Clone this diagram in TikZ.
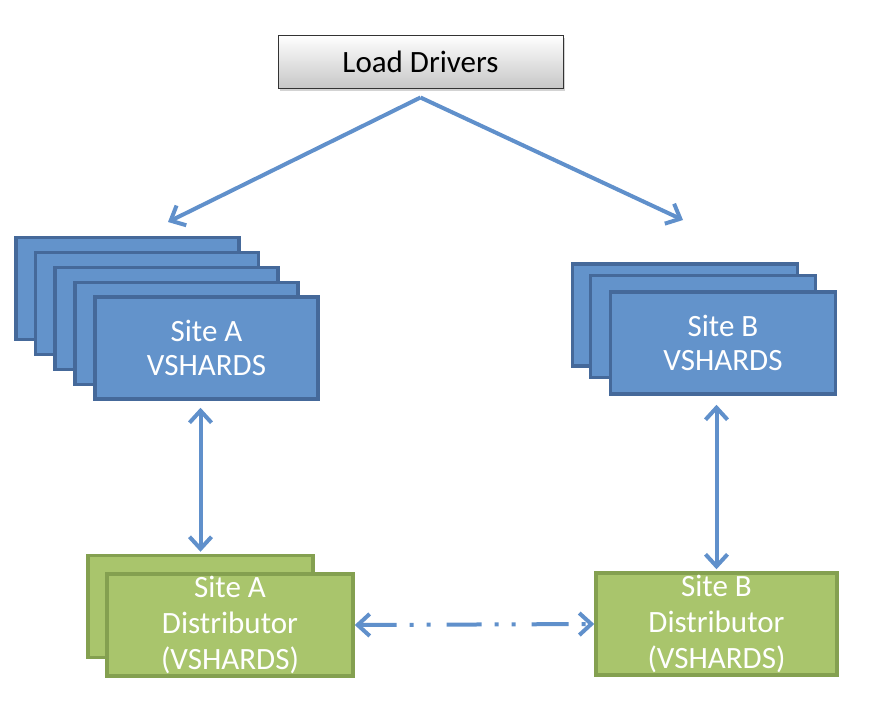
\documentclass[tikz,border=0pt]{standalone}
\usepackage{fontspec}
\setmainfont{Carlito}
\usetikzlibrary{arrows.meta,positioning,shadows}
\definecolor{shardBlue}{HTML}{6393CB}
\definecolor{shardEdge}{HTML}{45699A}
\definecolor{distGreen}{HTML}{A9C56C}
\definecolor{distEdge}{HTML}{84A050}
\definecolor{linkBlue}{HTML}{6090CB}

\begin{document}
\begin{tikzpicture}[x=1pt,y=-1pt,every node/.style={font=\fontsize{31}{34}\selectfont}]
      \tikzstyle{driver}=[draw=black!80,line width=1pt,top color=white,bottom color=black!22,
                          minimum width=285pt,minimum height=53pt,
                          drop shadow={opacity=0.35,shadow xshift=2pt,shadow yshift=-3pt}]
      \tikzstyle{shard}=[draw=shardEdge,fill=shardBlue,line width=3.5pt,inner sep=0pt,
                         minimum width=223pt,minimum height=102pt,align=center,text=white]
      \tikzstyle{dist}=[draw=distEdge,fill=distGreen,line width=3.5pt,inner sep=0pt,
                        minimum height=102pt,align=center,text=white,
                        font=\fontsize{31}{36}\selectfont]
      \tikzstyle{link}=[linkBlue,line width=4pt]
      \tikzstyle{tip}=[-{Straight Barb[length=12pt,width=22pt]}]
      \tikzstyle{tips}=[{Straight Barb[length=12pt,width=22pt]}-{Straight Barb[length=12pt,width=22pt]}]
      \useasboundingbox (0,0) rectangle (884,710);
      \node[driver] (ld) at (420.5,61.5) {Load Drivers};
      % site A stack
      \node[shard] (sa1) at (127.5,288.5) {};
      \node[shard] (sa2) at (147,303.5) {};
      \node[shard] (sa3) at (166.5,318.5) {};
      \node[shard] (sa4) at (186.5,333.5) {};
      \node[shard] (sa5) at (206.5,348) {Site A\\VSHARDS};
      % site B stack
      \node[shard,minimum width=225pt] (sb1) at (685,315) {};
      \node[shard,minimum width=225pt] (sb2) at (703,326.5) {};
      \node[shard,minimum width=225pt] (sb3) at (723,343) {Site B\\VSHARDS};
      % distributors
      \node[dist,minimum width=225pt] (da1) at (200.5,606.5) {};
      \node[dist,minimum width=246pt] (da2) at (230,625) {Site A\\Distributor\\(VSHARDS)};
      \node[dist,minimum width=241pt] (db) at (716.5,624) {Site B\\Distributor\\(VSHARDS)};
      % connectors
      \coordinate[below=9pt of ld] (split);
      \coordinate (toA) at (168,222);
      \coordinate (toB) at (683,220);
      \draw[link,tip] (split)--(toA);
      \draw[link,tip] (split)--(toB);
      \draw[link,tips,shorten <=7pt,shorten >=2pt] (sa5.south -| da1.north)--(da1.north);
      \draw[link,tips,shorten <=9pt,shorten >=2pt] (sb3.south -| db.north)--(db.north);
      \draw[link,tips,dash pattern=on 37pt off 13pt on 4pt off 13pt on 4pt off 16pt on 35pt off 13pt on 4pt off 13pt on 4pt off 16pt]
           (da2.east)--(db.west);
\end{tikzpicture}
\end{document}
